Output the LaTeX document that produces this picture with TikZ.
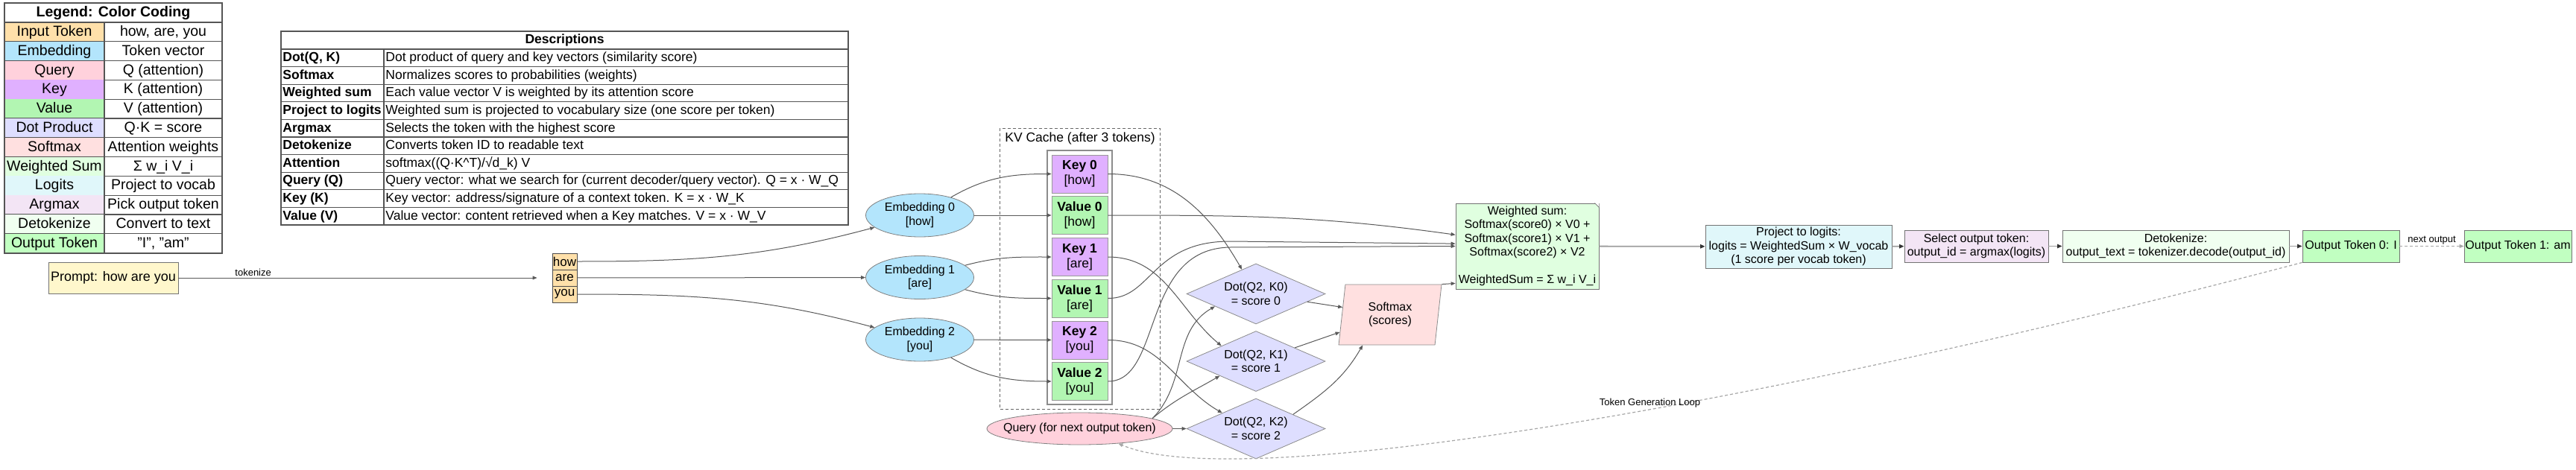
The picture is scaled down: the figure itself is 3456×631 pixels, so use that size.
\documentclass[tikz,border=0pt]{standalone}
\usepackage{fontspec}
\setmainfont{Liberation Sans}
\usetikzlibrary{shapes.geometric,arrows.meta}
\definecolor{atttoken}{RGB}{255,224,170}
\definecolor{attemb}{RGB}{179,229,252}
\definecolor{attquery}{RGB}{255,209,220}
\definecolor{attkey}{RGB}{224,176,255}
\definecolor{attvalue}{RGB}{178,246,178}
\definecolor{attdot}{RGB}{222,222,255}
\definecolor{attsoft}{RGB}{255,224,224}
\definecolor{attsum}{RGB}{224,255,224}
\definecolor{attlogit}{RGB}{224,247,250}
\definecolor{attargmax}{RGB}{243,229,245}
\definecolor{attdetok}{RGB}{240,255,240}
\definecolor{attout}{RGB}{193,255,193}
\definecolor{attprompt}{RGB}{255,247,204}
\definecolor{attline}{RGB}{85,85,85}

\begin{document}
\begin{tikzpicture}[x=.5pt,y=.5pt,font=\fontsize{8}{9.25}\selectfont,
    legtext/.style={inner sep=0pt,text height=7.2pt,text depth=1.6pt,font=\fontsize{9.75}{11}\selectfont},
    desctext/.style={anchor=west,inner sep=0pt,text height=6.4pt,text depth=1.5pt,font=\fontsize{8.75}{10}\selectfont},
    tabline/.style={draw=attline,line width=.6pt},
    box/.style={draw=black!55,inner sep=0pt,align=center,minimum height=21.5pt},
    tok/.style={draw=black!70,fill=atttoken,inner sep=0pt,minimum width=16.5pt,minimum height=11pt,font=\fontsize{8.5}{9}\selectfont},
    emb/.style={ellipse,draw=black!50,fill=attemb,inner sep=0pt,minimum width=72.5pt,minimum height=29pt,align=center},
    qry/.style={ellipse,draw=black!50,fill=attquery,inner xsep=-10pt,inner ysep=0pt,minimum width=124.5pt,minimum height=21.5pt},
    kvbox/.style={draw=black!40,inner sep=0pt,minimum width=37.5pt,minimum height=25.5pt,align=center,font=\fontsize{8.75}{10}\selectfont},
    dotbox/.style={diamond,aspect=2.3,draw=black!45,fill=attdot,inner sep=0pt,minimum width=93pt,minimum height=40.5pt,align=center},
    link/.style={draw=black!65,line width=.5pt,-{Triangle[length=3pt,width=2.4pt]}},
    flow/.style={draw=black!38,line width=.9pt,-{Triangle[length=3.2pt,width=2.6pt,color=black!80]}},
    backedge/.style={draw=black!35,line width=.6pt,dash pattern=on 2pt off 1.5pt,-{Triangle[length=3pt,width=2.4pt]}},
    lbl/.style={font=\fontsize{6.5}{7}\selectfont,inner sep=1pt}]
    \useasboundingbox (0,0) rectangle (3456,-631);
    % Legende: Farbzellen links, Bedeutung rechts.
    \foreach \i/\fc/\lab/\txt in {0/atttoken/Input Token/{how, are, you},1/attemb/Embedding/Token vector,
        2/attquery/Query/Q (attention),3/attkey/Key/K (attention),4/attvalue/Value/V (attention),
        5/attdot/Dot Product/Q·K = score,6/attsoft/Softmax/Attention weights,7/attsum/Weighted Sum/Σ w\_i V\_i,
        8/attlogit/Logits/Project to vocab,9/attargmax/Argmax/Pick output token,
        10/attdetok/Detokenize/Convert to text,11/attout/Output Token/{"I", "am"}}{
      \fill[\fc] (6,{-30-25.8*\i}) rectangle (140,{-55.8-25.8*\i});
      \node[legtext] (leg-k\i) at (73,{-42.9-25.8*\i}) {\lab};
      \node[legtext] (leg-v\i) at (219,{-42.9-25.8*\i}) {\txt};
      \draw[tabline] (6,{-55.8-25.8*\i}) -- (298,{-55.8-25.8*\i});
    }
    \node[legtext,font=\fontsize{9.75}{11}\selectfont\bfseries] (leg-title) at (152,-17) {Legend: Color Coding};
    \draw[tabline] (6,-4) rectangle (298,-340) (6,-30) -- (298,-30) (140,-30) -- (140,-340);
    % Beschreibungen
    \foreach \i/\key/\txt in {0/{Dot(Q, K)}/{Dot product of query and key vectors (similarity score)},
        1/{Softmax}/{Normalizes scores to probabilities (weights)},
        2/{Weighted sum}/{Each value vector V is weighted by its attention score},
        3/{Project to logits}/{Weighted sum is projected to vocabulary size (one score per token)},
        4/{Argmax}/{Selects the token with the highest score},
        5/{Detokenize}/{Converts token ID to readable text},
        6/{Attention}/{softmax((Q·K\textasciicircum T)/√d\_k) V},
        7/{Query (Q)}/{Query vector: what we search for (current decoder/query vector). Q = x · W\_Q},
        8/{Key (K)}/{Key vector: address/signature of a context token. K = x · W\_K},
        9/{Value (V)}/{Value vector: content retrieved when a Key matches. V = x · W\_V}}{
      \node[desctext,font=\fontsize{8.75}{10}\selectfont\bfseries] (desc-k\i) at (379,{-77.8-23.6*\i}) {\key};
      \node[desctext] (desc-v\i) at (517,{-77.8-23.6*\i}) {\txt};
      \draw[tabline] (377,{-89.6-23.6*\i}) -- (1138,{-89.6-23.6*\i});
    }
    \node[desctext,anchor=center,font=\fontsize{8.75}{10}\selectfont\bfseries] (desc-title) at (757.5,-54) {Descriptions};
    \draw[tabline] (377,-42) rectangle (1138,-302) (377,-66) -- (1138,-66) (515,-66) -- (515,-302);
    % Eingabe und Embeddings
    \node[box,fill=attprompt,minimum width=87pt,minimum height=21pt,font=\fontsize{9}{10}\selectfont] (prompt) at (152,-373) {Prompt: how are you};
    \foreach \t/\w in {0/how,1/are,2/you}{
      \node[tok] (tok\t) at (757.5,{-351-22*\t}) {\w};
      \node[emb] (emb\t) at (1234,{-289-83.5*\t}) {Embedding \t\\{[\w]}};
    }
    % KV-Cache
    \draw[black!60,dash pattern=on 2pt off 1.5pt] (1341,-172) rectangle (1556,-549);
    \node[font=\fontsize{8.75}{10}\selectfont] (kvtitle) at (1449,-186) {KV Cache (after 3 tokens)};
    \draw[black!45,line width=.8pt,fill=white] (1405,-202) rectangle (1492,-543);
    \foreach \k/\w in {0/how,1/are,2/you}{
      \node[kvbox,fill=attkey] (key\k) at (1448.5,{-233.5-111.5*\k}) {\textbf{Key \k}\\{[\w]}};
      \node[kvbox,fill=attvalue] (val\k) at (1448.5,{-289-111.5*\k}) {\textbf{Value \k}\\{[\w]}};
    }
    \node[qry] (query) at (1448.5,-575.5) {Query (for next output token)};
    \foreach \d in {0,1,2}
      \node[dotbox] (dot\d) at (1685,{-394.5-90.5*\d}) {Dot(Q2, K\d)\\= score \d};
    \node[trapezium,trapezium left angle=75,trapezium right angle=105,trapezium stretches body=true,
      draw=black!45,fill=attsoft,inner sep=0pt,minimum width=69pt,minimum height=40.5pt,align=center]
      (softmax) at (1865,-422.5) {Softmax\\(scores)};
    \node[box,fill=attsum,minimum width=96pt,minimum height=57.5pt] (wsum) at (2049,-330.5)
      {Weighted sum:\\Softmax(score0) × V0 +\\Softmax(score1) × V1 +\\Softmax(score2) × V2\\[9.25pt]WeightedSum = Σ w\_i V\_i};
    \fill[white] (wsum.north east) -- ([xshift=-3pt]wsum.north east) -- ([yshift=-3pt]wsum.north east) -- cycle;
    \draw[black!55] ([xshift=-3pt]wsum.north east) -- ([yshift=-3pt]wsum.north east);
    % Ausgabe
    \node[box,fill=attlogit,minimum width=125pt,minimum height=29pt] (logits) at (2413,-331)
      {Project to logits:\\logits = WeightedSum × W\_vocab\\(1 score per vocab token)};
    \node[box,fill=attargmax,minimum width=96.5pt] (argmax) at (2651.5,-330.5) {Select output token:\\output\_id = argmax(logits)};
    \node[box,fill=attdetok,minimum width=152pt] (detok) at (2919,-330.5) {Detokenize:\\output\_text = tokenizer.decode(output\_id)};
    \node[box,fill=attout,minimum width=65pt] (out0) at (3154,-330.5) {Output Token 0: I};
    \node[box,fill=attout,minimum width=72pt] (out1) at (3378,-330.5) {Output Token 1: am};

    \draw[link,shorten >=10pt] (prompt) -- (tok1) node[lbl,pos=.2,above] (lbl-tokenize) {tokenize};
    \draw[link] (tok0.east) to[out=0,in=195] (emb0);
    \draw[link] (tok1) -- (emb1);
    \draw[link] (tok2.east) to[out=0,in=165] (emb2);
    \draw[link] (emb0) to[out=30,in=180] (key0);
    \draw[link] (emb0) -- (val0);
    \draw[link] (emb1) to[out=15,in=180] (key1);
    \draw[link] (emb1) to[out=-15,in=180] (val1);
    \draw[link] (emb2) -- (key2);
    \draw[link] (emb2) to[out=-30,in=180] (val2);
    \draw[link] (key0.east) to[out=0,in=120] (dot0);
    \draw[link] (key1.east) to[out=0,in=140] (dot1.156);
    \draw[link] (key2.east) to[out=0,in=150] (dot2.155);
    \draw[link] (val0.east) to[out=0,in=172] (wsum.171);
    \draw[link] (val1.east) .. controls (1545,-401) and (1545,-324) .. (1650,-324) -- (wsum.178);
    \draw[link] (val2.east) .. controls (1560,-512) and (1530,-334) .. (1650,-332) -- (wsum.west);
    \draw[link] (query.8) to[out=45,in=210] (dot0.197);
    \draw[link] (query.8) to[out=40,in=210] (dot1.202);
    \draw[link] (query) -- (dot2);
    \draw[link] (dot0) -- (softmax);
    \draw[link] (dot1) -- (softmax);
    \draw[link] (dot2.21) to[out=35,in=240] (softmax.228);
    \draw[link] (softmax.top right corner) -- ([yshift=4pt]wsum.south west);
    \draw[flow] (wsum) -- (logits);
    \draw[flow] (logits) -- (argmax);
    \draw[flow] (argmax) -- (detok);
    \draw[flow] (detok) -- (out0);
    \draw[backedge] (out0) -- (out1) node[lbl,midway,above] (lbl-next) {next output};
    \draw[backedge] (out0.south west) .. controls (2300,-560) and (1650,-660) .. (query.-21)
      node[lbl,pos=.41,above] (lbl-loop) {Token Generation Loop};
  \end{tikzpicture}
\end{document}
